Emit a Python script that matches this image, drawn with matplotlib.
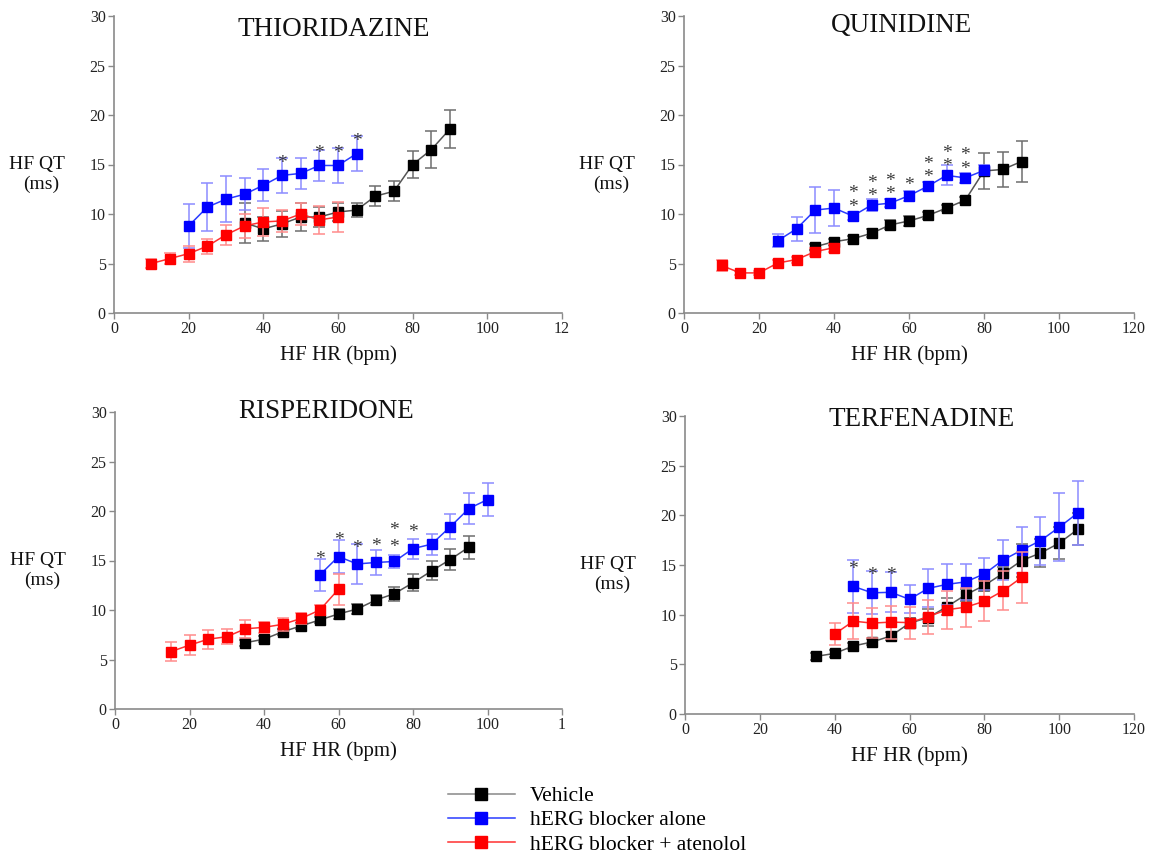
import matplotlib
matplotlib.use('Agg')
import matplotlib.pyplot as plt
from matplotlib.lines import Line2D

plt.rcParams['font.family'] = ['Liberation Serif', 'DejaVu Serif']

# ---------------- DATA ----------------
# THIORIDAZINE
thio_veh_x = [35, 40, 45, 50, 55, 60, 65, 70, 75, 80, 85, 90]
thio_veh_y = [9.1, 8.5, 9.0, 9.7, 9.7, 10.2, 10.4, 11.8, 12.3, 15.0, 16.5, 18.6]
thio_veh_e = [2.0, 1.2, 1.3, 1.4, 1.0, 0.9, 0.7, 1.0, 1.0, 1.4, 1.9, 1.9]
thio_blk_x = [20, 25, 30, 35, 40, 45, 50, 55, 60, 65]
thio_blk_y = [8.8, 10.7, 11.5, 12.0, 12.9, 13.9, 14.1, 14.9, 14.9, 16.1]
thio_blk_e = [2.2, 2.4, 2.3, 1.6, 1.6, 1.8, 1.6, 1.6, 1.75, 1.8]
thio_ate_x = [10, 15, 20, 25, 30, 35, 40, 45, 50, 55, 60]
thio_ate_y = [5.0, 5.5, 6.0, 6.75, 7.9, 8.8, 9.2, 9.3, 10.0, 9.4, 9.7]
thio_ate_e = [0.5, 0.55, 0.8, 0.75, 1.0, 1.2, 1.4, 1.1, 1.1, 1.4, 1.5]
thio_star_x = [45, 55, 60, 65]
thio_star_n = [1, 1, 1, 1]

# QUINIDINE
quin_veh_x = [35, 40, 45, 50, 55, 60, 65, 70, 75, 80, 85, 90]
quin_veh_y = [6.7, 7.2, 7.5, 8.05, 8.9, 9.3, 9.85, 10.6, 11.4, 14.35, 14.5, 15.3]
quin_veh_e = [0.3, 0.3, 0.3, 0.4, 0.45, 0.5, 0.4, 0.3, 0.3, 1.8, 1.8, 2.1]
quin_blk_x = [25, 30, 35, 40, 45, 50, 55, 60, 65, 70, 75, 80]
quin_blk_y = [7.3, 8.5, 10.4, 10.6, 9.8, 10.9, 11.1, 11.85, 12.8, 13.9, 13.65, 14.4]
quin_blk_e = [0.65, 1.2, 2.35, 1.85, 0.4, 0.6, 0.4, 0.5, 0.4, 1.0, 0.5, 0.5]
quin_ate_x = [10, 15, 20, 25, 30, 35, 40]
quin_ate_y = [4.8, 4.05, 4.05, 5.05, 5.4, 6.2, 6.6]
quin_ate_e = [0.6, 0.2, 0.2, 0.3, 0.3, 0.4, 0.4]
quin_star_x = [45, 50, 55, 60, 65, 70, 75]
quin_star_n = [2, 2, 2, 1, 2, 2, 2]

# RISPERIDONE
risp_veh_x = [35, 40, 45, 50, 55, 60, 65, 70, 75, 80, 85, 90, 95]
risp_veh_y = [6.7, 7.05, 7.8, 8.4, 9.0, 9.6, 10.1, 11.0, 11.65, 12.75, 13.95, 15.1, 16.35]
risp_veh_e = [0.3, 0.3, 0.3, 0.3, 0.3, 0.5, 0.5, 0.5, 0.7, 0.85, 0.95, 1.05, 1.15]
risp_blk_x = [55, 60, 65, 70, 75, 80, 85, 90, 95, 100]
risp_blk_y = [13.55, 15.4, 14.65, 14.8, 14.9, 16.2, 16.65, 18.4, 20.25, 21.15]
risp_blk_e = [1.6, 1.65, 2.0, 1.25, 0.7, 1.0, 1.05, 1.25, 1.55, 1.7]
risp_ate_x = [15, 20, 25, 30, 35, 40, 45, 50, 55, 60]
risp_ate_y = [5.8, 6.45, 7.05, 7.3, 8.1, 8.25, 8.55, 9.15, 10.0, 12.1]
risp_ate_e = [1.0, 1.0, 0.95, 0.75, 0.9, 0.55, 0.65, 0.55, 0.55, 1.55]
risp_star_x = [55, 60, 65, 70, 75, 80]
risp_star_n = [1, 1, 1, 1, 2, 1]

# TERFENADINE
terf_veh_x = [35, 40, 45, 50, 55, 60, 65, 70, 75, 80, 85, 90, 95, 100, 105]
terf_veh_y = [5.8, 6.1, 6.85, 7.25, 7.85, 9.15, 9.7, 10.8, 12.0, 12.95, 14.15, 15.45, 16.2, 17.2, 18.6]
terf_veh_e = [0.35, 0.35, 0.3, 0.3, 0.45, 0.5, 0.85, 0.85, 0.6, 0.6, 0.6, 1.7, 1.4, 1.6, 1.6]
terf_blk_x = [45, 50, 55, 60, 65, 70, 75, 80, 85, 90, 95, 100, 105]
terf_blk_y = [12.85, 12.2, 12.25, 11.55, 12.65, 13.05, 13.3, 14.1, 15.5, 16.5, 17.45, 18.8, 20.25]
terf_blk_e = [2.7, 2.15, 2.0, 1.4, 1.9, 2.05, 1.8, 1.6, 2.0, 2.3, 2.4, 3.4, 3.25]
terf_ate_x = [40, 45, 50, 55, 60, 65, 70, 75, 80, 85, 90]
terf_ate_y = [8.05, 9.35, 9.15, 9.25, 9.2, 9.8, 10.5, 10.75, 11.35, 12.4, 13.75]
terf_ate_e = [1.15, 1.8, 1.5, 1.65, 1.6, 1.7, 1.9, 1.95, 2.0, 1.95, 2.6]
terf_star_x = [45, 50, 55]
terf_star_n = [1, 1, 1]

titles = ['THIORIDAZINE', 'QUINIDINE', 'RISPERIDONE', 'TERFENADINE']
x_ticks = [0, 20, 40, 60, 80, 100, 120]
x_labels_full = ['0', '20', '40', '60', '80', '100', '120']
x_labels_thio = ['0', '20', '40', '60', '80', '100', '12']
x_labels_risp = ['0', '20', '40', '60', '80', '100', '1']
y_ticks = [0, 5, 10, 15, 20, 25, 30]
legend_labels = ['Vehicle', 'hERG blocker alone', 'hERG blocker + atenolol']

# ---------------- STYLE ----------------
W, H = 1154, 856
fig = plt.figure(figsize=(W / 100, H / 100), dpi=100)

def px_axes(left, right, top, bottom):
    return fig.add_axes([left / W, 1 - bottom / H, (right - left) / W, (bottom - top) / H])

series_style = [
    dict(mc='#000000', lc='#555555', ec='#6e6e6e'),   # vehicle
    dict(mc='#0000ff', lc='#2a3cff', ec='#8c8cff'),   # hERG alone
    dict(mc='#ff0000', lc='#ff3030', ec='#ff8c8c'),   # + atenolol
]

panels = [
    dict(box=(114, 562, 16, 313), title=titles[0], tpos=(334, 30), xl=x_labels_thio,
         series=[(thio_veh_x, thio_veh_y, thio_veh_e), (thio_blk_x, thio_blk_y, thio_blk_e),
                 (thio_ate_x, thio_ate_y, thio_ate_e)],
         stars=(thio_star_x, thio_star_n), soff=1.2, sgap=1.0),
    dict(box=(684, 1134, 16, 313), title=titles[1], tpos=(902, 26), xl=x_labels_full,
         series=[(quin_veh_x, quin_veh_y, quin_veh_e), (quin_blk_x, quin_blk_y, quin_blk_e),
                 (quin_ate_x, quin_ate_y, quin_ate_e)],
         stars=(quin_star_x, quin_star_n), soff=1.05, sgap=1.0),
    dict(box=(115, 562, 412, 709), title=titles[2], tpos=(326, 412), xl=x_labels_risp,
         series=[(risp_veh_x, risp_veh_y, risp_veh_e), (risp_blk_x, risp_blk_y, risp_blk_e),
                 (risp_ate_x, risp_ate_y, risp_ate_e)],
         stars=(risp_star_x, risp_star_n), soff=1.6, sgap=1.35),
    dict(box=(685, 1134, 416, 714), title=titles[3], tpos=(922, 420), xl=x_labels_full,
         series=[(terf_veh_x, terf_veh_y, terf_veh_e), (terf_blk_x, terf_blk_y, terf_blk_e),
                 (terf_ate_x, terf_ate_y, terf_ate_e)],
         stars=(terf_star_x, terf_star_n), soff=1.7, sgap=1.0),
]

STAR_FS = 14
for p in panels:
    l, r, t, b = p['box']
    ax = px_axes(l, r, t, b)
    ax.set_xlim(0, 120)
    ax.set_ylim(0, 30)
    for s in ('top', 'right'):
        ax.spines[s].set_visible(False)
    for s in ('left', 'bottom'):
        ax.spines[s].set_color('#8a8a8a')
        ax.spines[s].set_linewidth(1.2)
    ax.set_xticks(x_ticks)
    ax.set_xticklabels(p['xl'])
    ax.set_yticks(y_ticks)
    ax.tick_params(direction='out', length=4, width=1, color='#8a8a8a',
                   labelsize=11.5, labelcolor='#222222', pad=2)
    ax.patch.set_visible(False)

    for k, ((xs, ys, es), st) in enumerate(zip(p['series'], series_style)):
        z = 3 + 3 * k
        ax.errorbar(xs, ys, yerr=es, fmt='none', ecolor=st['ec'], elinewidth=1.1,
                    capsize=4.5, capthick=1.1, zorder=z, clip_on=False)
        ax.plot(xs, ys, '-', color=st['lc'], lw=1.1, zorder=z + 1, clip_on=False)
        ax.plot(xs, ys, 's', color=st['mc'], ms=7, mec=st['mc'], zorder=z + 2, clip_on=False)

    # significance stars above the hERG-alone series (one text per stack)
    bx, by, _ = p['series'][1]
    sx, sn = p['stars']
    px_per_unit = (b - t) / 30.0
    lsp = p['sgap'] * px_per_unit / (STAR_FS * 100 / 72 * 0.70)
    for x0, n in zip(sx, sn):
        yv = by[bx.index(x0)]
        yc = yv + p['soff'] + (n - 1) * p['sgap'] / 2.0
        ax.text(x0, yc, '\n'.join(['*'] * n), ha='center', va='center',
                fontsize=STAR_FS, color='#3a3a3a', zorder=20, linespacing=lsp)

    fig.text(p['tpos'][0] / W, 1 - p['tpos'][1] / H, p['title'], ha='center', va='center',
             fontsize=19.5, color='#111111')
    # axis labels
    fig.text((l + r) / 2 / W, 1 - (b + 42) / H, 'HF HR (bpm)', ha='center', va='center',
             fontsize=15, color='#111111')
    fig.text((l - 77) / W, 1 - (t + 148) / H, 'HF QT', ha='center', va='center',
             fontsize=14, color='#111111')
    fig.text((l - 73) / W, 1 - (t + 168) / H, '(ms)', ha='center', va='center',
             fontsize=14, color='#111111')

handles = [Line2D([0], [0], color=st['lc'] if i else '#888888', lw=1.1, marker='s', ms=9,
                  mfc=st['mc'], mec=st['mc'])
           for i, st in enumerate(series_style)]
fig.legend(handles, legend_labels, loc='upper left', bbox_to_anchor=(448 / W, 1 - 786 / H),
           frameon=False, fontsize=15.5, handlelength=3.1, handletextpad=0.7,
           labelspacing=0.2, borderpad=0, borderaxespad=0)

fig.savefig('out.png', dpi=100, facecolor='white')
